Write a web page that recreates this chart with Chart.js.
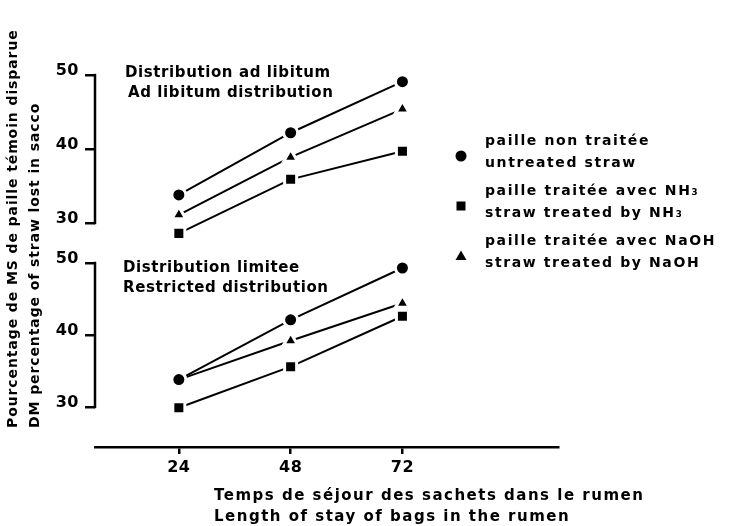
<!DOCTYPE html>
<html><head><meta charset="utf-8">
<script src="https://cdn.jsdelivr.net/npm/chart.js@4/dist/chart.umd.min.js"></script>
<style>html,body{margin:0;padding:0;background:#fff}#wrap{width:736px;height:526px;position:relative}canvas{display:block}</style>
</head><body><div id="wrap"><canvas id="c" width="736" height="526"></canvas></div>
<script>
// ---- data ----
const hours = [24, 48, 72];
const xTicks = [24, 48, 72];
const yTicks = [30, 40, 50];
const adLibUntreated = [33.8, 42.2, 49.1];
const adLibNH3 = [28.6, 35.9, 39.7];
const adLibNaOH = [31.1, 38.9, 45.4];
const restrUntreated = [33.8, 42.1, 49.3];
const restrNH3 = [29.9, 35.6, 42.6];
const restrNaOH = [33.8, 39.2, 44.4];
const seriesNames = [
  ["paille non traitée", "untreated straw"],
  ["paille traitée avec NH₃", "straw treated by NH₃"],
  ["paille traitée avec NaOH", "straw treated by NaOH"]
];
const panelTitles = [
  ["Distribution ad libitum", "Ad libitum distribution"],
  ["Distribution limitee", "Restricted distribution"]
];
const xTitle = ["Temps de séjour des sachets dans le rumen", "Length of stay of bags in the rumen"];
const yTitle = ["Pourcentage de MS de paille témoin disparue", "DM percentage of straw lost in sacco"];

const FONT = "'DejaVu Sans', sans-serif";
const styles = {
  circle: {pointStyle: 'circle', pointRadius: 7},
  rect: {pointStyle: 'rect', pointRadius: 8.5},
  triangle: {pointStyle: 'triangle', pointRadius: 8}
};
const toXY = vals => hours.map((h, i) => ({x: h, y: vals[i]}));
function ds(label, vals, axis, st, extra) {
  return Object.assign({
    label, data: toXY(vals), yAxisID: axis,
    borderColor: '#000', borderWidth: 2, backgroundColor: '#000',
    pointBackgroundColor: '#000', pointBorderColor: '#fff', pointBorderWidth: 3,
    pointHoverRadius: styles[st].pointRadius,
    tension: 0, fill: false
  }, styles[st], extra || {});
}

const datasets = [
  ds(seriesNames[0][1], adLibUntreated, 'yTop', 'circle'),
  ds(seriesNames[0][1], restrUntreated, 'yBot', 'circle'),
  ds(seriesNames[2][1], adLibNaOH, 'yTop', 'triangle'),
  ds(seriesNames[2][1], restrNaOH, 'yBot', 'triangle', {pointRadius: [0, 8, 8]}),
  ds(seriesNames[1][1], adLibNH3, 'yTop', 'rect'),
  ds(seriesNames[1][1], restrNH3, 'yBot', 'rect')
];

function text(ctx, str, x, y, size, spacing, align) {
  ctx.save();
  ctx.font = 'bold ' + size + 'px ' + FONT;
  ctx.letterSpacing = spacing + 'px';
  ctx.fillStyle = '#000';
  ctx.textAlign = align || 'left';
  ctx.textBaseline = 'middle';
  ctx.fillText(str, x, y);
  ctx.restore();
}
function marker(ctx, style, x, y) {
  ctx.save(); ctx.fillStyle = '#000'; ctx.beginPath();
  if (style === 'circle') { ctx.arc(x, y, 5.5, 0, Math.PI * 2); }
  else if (style === 'rect') { ctx.rect(x - 4.5, y - 4.5, 9, 9); }
  else { ctx.moveTo(x, y - 5.5); ctx.lineTo(x + 5.5, y + 4); ctx.lineTo(x - 5.5, y + 4); ctx.closePath(); }
  ctx.fill(); ctx.restore();
}

const decor = {
  id: 'decor',
  afterLayout(chart) {
    // both y axes share the same left strip; let the lower one use the full strip for its labels
    const top = chart.scales.yTop, bot = chart.scales.yBot;
    bot.left = top.left; bot.width = top.right - top.left;
  },
  beforeDraw(chart) { chart.ctx.letterSpacing = '0.5px'; },
  afterDraw(chart) {
    const ctx = chart.ctx, ca = chart.chartArea;
    ctx.letterSpacing = '0px';
    // y-axis brackets
    ctx.save(); ctx.strokeStyle = '#000'; ctx.lineWidth = 2.5;
    ['yTop', 'yBot'].forEach(id => {
      const s = chart.scales[id];
      ctx.beginPath();
      ctx.moveTo(ca.left, s.getPixelForValue(yTicks[yTicks.length - 1]) - 1.2);
      ctx.lineTo(ca.left, s.getPixelForValue(yTicks[0]) + 1.2);
      ctx.stroke();
    });
    ctx.restore();
    // panel titles
    text(ctx, panelTitles[0][0], 125, 73, 15, 0.6);
    text(ctx, panelTitles[0][1], 128, 93, 15, 0.6);
    text(ctx, panelTitles[1][0], 123, 268, 15, 0.6);
    text(ctx, panelTitles[1][1], 123, 288, 15, 0.6);
    // legend
    const order = ['circle', 'rect', 'triangle'];
    const mids = [152, 202, 252];
    seriesNames.forEach((n, i) => {
      marker(ctx, order[i], 461, mids[i] + 4);
      text(ctx, n[0], 485, mids[i] - 11, 14, 1.6);
      text(ctx, n[1], 485, mids[i] + 11, 14, 1.6);
    });
    // x title
    text(ctx, xTitle[0], 214, 496, 15, 1.5);
    text(ctx, xTitle[1], 214, 517, 15, 1.5);
    // y title (rotated)
    [[13, yTitle[0]], [35, yTitle[1]]].forEach(([x, s]) => {
      ctx.save(); ctx.translate(x, 428); ctx.rotate(-Math.PI / 2);
      text(ctx, s, 0, 0, 14, 0.9, 'left');
      ctx.restore();
    });
  }
};

const yCommon = {
  type: 'linear', position: 'left',
  afterBuildTicks: s => { s.ticks = yTicks.map(v => ({value: v})); },
  grid: {display: true, drawOnChartArea: false, drawTicks: true, tickLength: 10, color: '#000', lineWidth: 2.5},
  border: {display: false},
  ticks: {font: {family: FONT, size: 16, weight: 'bold'}, color: '#000', padding: 6, labelOffset: -4}
};

new Chart(document.getElementById('c'), {
  type: 'line',
  data: {datasets},
  options: {
    responsive: false, animation: false,
    layout: {padding: {left: 0, right: 178, top: 60, bottom: 0}},
    plugins: {legend: {display: false}, tooltip: {enabled: false}},
    scales: {
      x: {
        type: 'linear', min: 6, max: 105.4,
        afterBuildTicks: s => { s.ticks = xTicks.map(v => ({value: v})); },
        afterFit: s => { s.height = 79; },
        grid: {display: true, drawOnChartArea: false, drawTicks: true, tickLength: 7, color: '#000', lineWidth: 2.5},
        border: {display: true, color: '#000', width: 2.5},
        ticks: {font: {family: FONT, size: 16, weight: 'bold'}, color: '#000', padding: 4, maxRotation: 0}
      },
      yTop: Object.assign({}, yCommon, {weight: 1, min: -0.27, max: 52.03, afterFit: s => { s.width = 95; }}),
      yBot: Object.assign({}, yCommon, {weight: 0, min: 24.44, max: 78.19, afterFit: s => { s.width = 0; }})
    }
  },
  plugins: [decor]
});
</script></body></html>
